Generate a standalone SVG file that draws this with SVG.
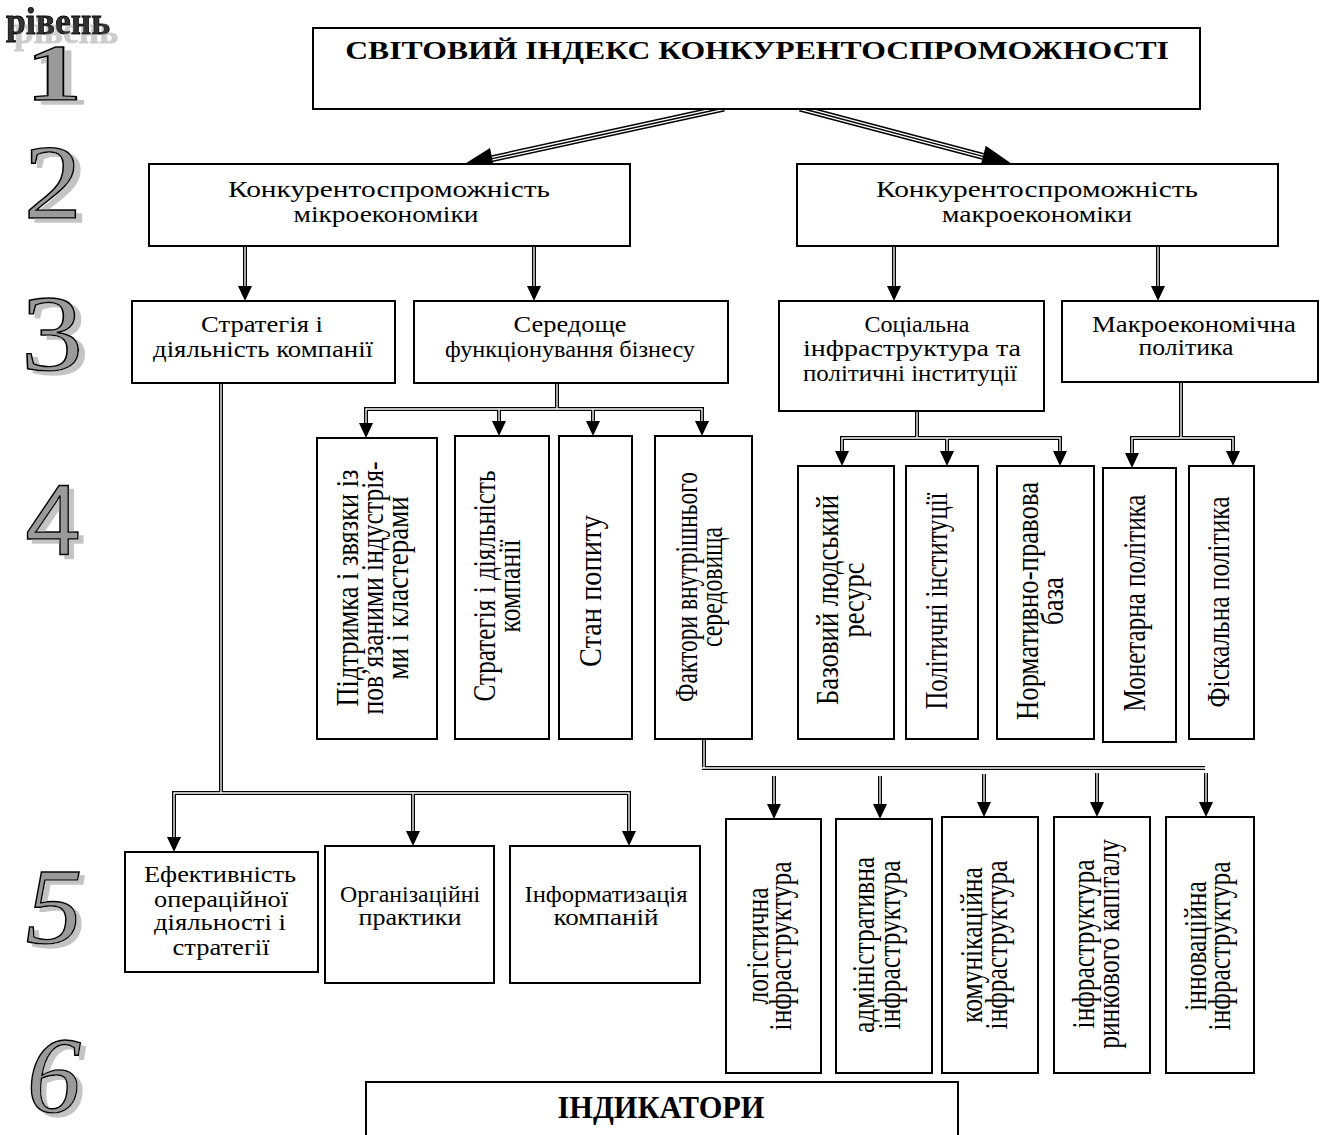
<svg xmlns="http://www.w3.org/2000/svg" width="1334" height="1135" viewBox="0 0 1334 1135">
<defs>
<style>
.box{fill:#fff;stroke:#000;stroke-width:2}
.h{font-family:"Liberation Serif","Times New Roman",serif;font-size:23px;text-anchor:middle;fill:#000}
.hb{font-family:"Liberation Serif","Times New Roman",serif;font-weight:bold;text-anchor:middle;fill:#000}
.v{font-family:"Liberation Serif","Times New Roman",serif;font-size:25px;text-anchor:middle;fill:#000}
.v5{font-family:"Liberation Serif","Times New Roman",serif;font-size:25.5px;text-anchor:middle;fill:#000}
.dbo{fill:none;stroke:#000;stroke-width:4}
.dbi{fill:none;stroke:#fff;stroke-width:1.3}
.tro{fill:none;stroke:#000;stroke-width:7}
.trm{fill:none;stroke:#fff;stroke-width:4}
.tri{fill:none;stroke:#000;stroke-width:1.4}
.num{font-family:"Liberation Serif","Times New Roman",serif;fill:#9a9a9a;stroke:#000;stroke-width:1.4;text-anchor:middle;filter:url(#shd)}
.lvl{font-family:"Liberation Serif","Times New Roman",serif;font-weight:bold;font-size:37px;text-anchor:middle;fill:#333;stroke:#000;stroke-width:0.8;filter:url(#shd2)}
</style>
<filter id="shd" x="-20%" y="-20%" width="150%" height="150%">
<feOffset in="SourceAlpha" dx="5" dy="4" result="o"/>
<feFlood flood-color="#c4c4c4"/>
<feComposite in2="o" operator="in" result="s"/>
<feMerge><feMergeNode in="s"/><feMergeNode in="SourceGraphic"/></feMerge>
</filter>
<filter id="shd2" x="-20%" y="-20%" width="150%" height="170%">
<feOffset in="SourceAlpha" dx="8" dy="9" result="o"/>
<feFlood flood-color="#cccccc"/>
<feComposite in2="o" operator="in" result="s"/>
<feMerge><feMergeNode in="s"/><feMergeNode in="SourceGraphic"/></feMerge>
</filter>
<path id="ah" d="M-7,-15 L7,-15 L0,0 Z" fill="#000"/>
</defs>
<rect width="1334" height="1135" fill="#fff"/>

<g id="levels">
<text class="lvl" x="58" y="34" textLength="104" lengthAdjust="spacingAndGlyphs">рівень</text>
<text class="num" style="font-size:80px;font-weight:bold" transform="translate(54,100) scale(1.4,1)">1</text>
<text class="num" style="font-size:105px" transform="translate(53,218) scale(1.1,1)">2</text>
<text class="num" style="font-size:108px" transform="translate(52,370) scale(1.15,1)">3</text>
<text class="num" style="font-size:100px;font-family:'Liberation Sans',Arial,sans-serif" transform="translate(53,555)">4</text>
<text class="num" style="font-size:108px;font-style:italic" transform="translate(54,943) scale(1.05,1)">5</text>
<text class="num" style="font-size:108px;font-style:italic" transform="translate(54,1112)">6</text>
</g>

<g id="connectors">
<path class="tro" d="M724,108 L492.3,158.6"/>
<path class="trm" d="M724,108 L492.3,158.6"/>
<path class="tri" d="M724,108 L492.3,158.6"/>
<polygon points="463,165 494.6,169.4 490,147.9" fill="#000"/>
<path class="tro" d="M800,108 L983,156.4"/>
<path class="trm" d="M800,108 L983,156.4"/>
<path class="tri" d="M800,108 L983,156.4"/>
<polygon points="1012,164 980.2,167 985.8,145.8" fill="#000"/>
<g class="dbo">
<path d="M245,246 V289"/><path d="M534,246 V289"/><path d="M894,246 V289"/><path d="M1158,246 V289"/>
<path d="M557,383 V409"/><path d="M366,424 V409 H702 V424"/><path d="M499,409 V424"/><path d="M593,409 V424"/>
<path d="M917,411 V438"/><path d="M842,454 V438 H1060 V454"/><path d="M947,438 V454"/>
<path d="M1181,382 V438"/><path d="M1132,455 V438 H1233 V454"/>
<path d="M221,383 V793"/><path d="M174,839 V793 H629 V834"/><path d="M413,793 V834"/>
<path d="M704,739 V768"/><path d="M702,768 H1205"/>
<path d="M774,776 V807"/><path d="M880,776 V807"/><path d="M984,774 V805"/><path d="M1097,773 V805"/><path d="M1206,773 V805"/>
</g>
<g class="dbi">
<path d="M245,246 V289"/><path d="M534,246 V289"/><path d="M894,246 V289"/><path d="M1158,246 V289"/>
<path d="M557,383 V409"/><path d="M366,424 V409 H702 V424"/><path d="M499,409 V424"/><path d="M593,409 V424"/>
<path d="M917,411 V438"/><path d="M842,454 V438 H1060 V454"/><path d="M947,438 V454"/>
<path d="M1181,382 V438"/><path d="M1132,455 V438 H1233 V454"/>
<path d="M221,383 V793"/><path d="M174,839 V793 H629 V834"/><path d="M413,793 V834"/>
<path d="M704,739 V768"/><path d="M702,768 H1205"/>
<path d="M774,776 V807"/><path d="M880,776 V807"/><path d="M984,774 V805"/><path d="M1097,773 V805"/><path d="M1206,773 V805"/>
</g>
<use href="#ah" x="245" y="301"/><use href="#ah" x="534" y="301"/><use href="#ah" x="894" y="301"/><use href="#ah" x="1158" y="301"/>
<use href="#ah" x="366" y="438"/><use href="#ah" x="499" y="436"/><use href="#ah" x="593" y="436"/><use href="#ah" x="702" y="436"/>
<use href="#ah" x="842" y="466"/><use href="#ah" x="947" y="466"/><use href="#ah" x="1060" y="466"/>
<use href="#ah" x="1132" y="468"/><use href="#ah" x="1233" y="466"/>
<use href="#ah" x="174" y="852"/><use href="#ah" x="413" y="846"/><use href="#ah" x="629" y="846"/>
<use href="#ah" x="774" y="819"/><use href="#ah" x="880" y="819"/><use href="#ah" x="984" y="817"/><use href="#ah" x="1097" y="817"/><use href="#ah" x="1206" y="817"/>
</g>

<g id="n-top">
<rect class="box" x="313" y="28" width="887" height="81"/>
<text class="hb" style="font-size:25.5px" transform="translate(757,59) scale(1.25,1)" textLength="659" lengthAdjust="spacingAndGlyphs">СВІТОВИЙ ІНДЕКС КОНКУРЕНТОСПРОМОЖНОСТІ</text>
</g>

<g id="n-micro">
<rect class="box" x="149" y="164" width="481" height="82"/>
<text class="h" transform="translate(389,197) scale(1.25,1)" textLength="257.6" lengthAdjust="spacingAndGlyphs">Конкурентоспроможність</text>
<text class="h" transform="translate(386,222) scale(1.25,1)" textLength="148" lengthAdjust="spacingAndGlyphs">мікроекономіки</text>
</g>
<g id="n-macro">
<rect class="box" x="797" y="164" width="481" height="82"/>
<text class="h" transform="translate(1037,197) scale(1.25,1)" textLength="257.6" lengthAdjust="spacingAndGlyphs">Конкурентоспроможність</text>
<text class="h" transform="translate(1037,222) scale(1.25,1)" textLength="152" lengthAdjust="spacingAndGlyphs">макроекономіки</text>
</g>

<g id="n-strategy">
<rect class="box" x="132" y="301" width="263" height="82"/>
<text class="h" transform="translate(262,332) scale(1.25,1)" textLength="97.6" lengthAdjust="spacingAndGlyphs">Стратегія і</text>
<text class="h" transform="translate(263,357) scale(1.25,1)" textLength="176" lengthAdjust="spacingAndGlyphs">діяльність компанії</text>
</g>
<g id="n-business">
<rect class="box" x="414" y="301" width="314" height="82"/>
<text class="h" transform="translate(570,332) scale(1.25,1)" textLength="90.4" lengthAdjust="spacingAndGlyphs">Середоще</text>
<text class="h" transform="translate(570,357) scale(1.25,1)" textLength="200" lengthAdjust="spacingAndGlyphs">функціонування бізнесу</text>
</g>
<g id="n-social">
<rect class="box" x="779" y="301" width="265" height="110"/>
<text class="h" transform="translate(917,332) scale(1.25,1)" textLength="84" lengthAdjust="spacingAndGlyphs">Соціальна</text>
<text class="h" transform="translate(912,356) scale(1.25,1)" textLength="174.4" lengthAdjust="spacingAndGlyphs">інфраструктура та</text>
<text class="h" transform="translate(910,381) scale(1.25,1)" textLength="171.2" lengthAdjust="spacingAndGlyphs">політичні інституції</text>
</g>
<g id="n-macropolicy">
<rect class="box" x="1062" y="301" width="256" height="81"/>
<text class="h" transform="translate(1194,332) scale(1.25,1)" textLength="163.2" lengthAdjust="spacingAndGlyphs">Макроекономічна</text>
<text class="h" transform="translate(1186,355) scale(1.25,1)" textLength="76" lengthAdjust="spacingAndGlyphs">політика</text>
</g>

<g id="n-support">
<rect class="box" x="317" y="438" width="120" height="301"/>
<text class="v" transform="translate(358,588) scale(1.25,1) rotate(-90)" textLength="237" lengthAdjust="spacingAndGlyphs">Підтримка і звязки із</text>
<text class="v" transform="translate(383,588) scale(1.25,1) rotate(-90)" textLength="253" lengthAdjust="spacingAndGlyphs">пов’язаними індустрія-</text>
<text class="v" transform="translate(408,588) scale(1.25,1) rotate(-90)" textLength="183" lengthAdjust="spacingAndGlyphs">ми і кластерами</text>
</g>
<g id="n-strat2">
<rect class="box" x="455" y="436" width="94" height="303"/>
<text class="v" transform="translate(495,586) scale(1.25,1) rotate(-90)" textLength="231" lengthAdjust="spacingAndGlyphs">Стратегія і діяльність</text>
<text class="v" transform="translate(520,586) scale(1.25,1) rotate(-90)" textLength="93" lengthAdjust="spacingAndGlyphs">компанії</text>
</g>
<g id="n-demand">
<rect class="box" x="559" y="436" width="73" height="303"/>
<text class="v" transform="translate(601,591) scale(1.25,1) rotate(-90)" textLength="152" lengthAdjust="spacingAndGlyphs">Стан попиту</text>
</g>
<g id="n-factors">
<rect class="box" x="655" y="436" width="97" height="303"/>
<text class="v" transform="translate(697,587) scale(1.25,1) rotate(-90)" textLength="230" lengthAdjust="spacingAndGlyphs">Фактори внутрішнього</text>
<text class="v" transform="translate(722,587) scale(1.25,1) rotate(-90)" textLength="120" lengthAdjust="spacingAndGlyphs">середовища</text>
</g>
<g id="n-human">
<rect class="box" x="798" y="466" width="96" height="273"/>
<text class="v" transform="translate(838,600) scale(1.25,1) rotate(-90)" textLength="210" lengthAdjust="spacingAndGlyphs">Базовий  людський</text>
<text class="v" transform="translate(864,600) scale(1.25,1) rotate(-90)" textLength="75" lengthAdjust="spacingAndGlyphs">ресурс</text>
</g>
<g id="n-polinst">
<rect class="box" x="906" y="466" width="72" height="273"/>
<text class="v" transform="translate(947,601) scale(1.25,1) rotate(-90)" textLength="217" lengthAdjust="spacingAndGlyphs">Політичні інституції</text>
</g>
<g id="n-legal">
<rect class="box" x="997" y="466" width="97" height="273"/>
<text class="v" transform="translate(1038,601) scale(1.25,1) rotate(-90)" textLength="238" lengthAdjust="spacingAndGlyphs">Нормативно-правова</text>
<text class="v" transform="translate(1063,601) scale(1.25,1) rotate(-90)" textLength="48" lengthAdjust="spacingAndGlyphs">база</text>
</g>
<g id="n-monetary">
<rect class="box" x="1103" y="468" width="73" height="274"/>
<text class="v" transform="translate(1145,603) scale(1.25,1) rotate(-90)" textLength="217" lengthAdjust="spacingAndGlyphs">Монетарна політика</text>
</g>
<g id="n-fiscal">
<rect class="box" x="1189" y="466" width="65" height="273"/>
<text class="v" transform="translate(1229,602) scale(1.25,1) rotate(-90)" textLength="211" lengthAdjust="spacingAndGlyphs">Фіскальна політика</text>
</g>

<g id="n-efficiency">
<rect class="box" x="125" y="852" width="193" height="120"/>
<text class="h" transform="translate(220,882) scale(1.25,1)" textLength="121.6" lengthAdjust="spacingAndGlyphs">Ефективність</text>
<text class="h" transform="translate(221,907) scale(1.25,1)" textLength="107.2" lengthAdjust="spacingAndGlyphs">операційної</text>
<text class="h" transform="translate(220,930) scale(1.25,1)" textLength="105.6" lengthAdjust="spacingAndGlyphs">діяльності і</text>
<text class="h" transform="translate(221,955) scale(1.25,1)" textLength="77.6" lengthAdjust="spacingAndGlyphs">стратегії</text>
</g>
<g id="n-org">
<rect class="box" x="325" y="846" width="169" height="137"/>
<text class="h" transform="translate(410,902) scale(1.25,1)" textLength="112" lengthAdjust="spacingAndGlyphs">Організаційні</text>
<text class="h" transform="translate(410,925) scale(1.25,1)" textLength="82.4" lengthAdjust="spacingAndGlyphs">практики</text>
</g>
<g id="n-info">
<rect class="box" x="510" y="846" width="190" height="137"/>
<text class="h" transform="translate(606,902) scale(1.25,1)" textLength="130.4" lengthAdjust="spacingAndGlyphs">Інформатизація</text>
<text class="h" transform="translate(606,925) scale(1.25,1)" textLength="84" lengthAdjust="spacingAndGlyphs">компаній</text>
</g>

<g id="n-logistics">
<rect class="box" x="726" y="819" width="95" height="254"/>
<text class="v5" transform="translate(768,946) scale(1.25,1) rotate(-90)">логістична</text>
<text class="v5" transform="translate(791,946) scale(1.25,1) rotate(-90)">інфраструктура</text>
</g>
<g id="n-admin">
<rect class="box" x="836" y="819" width="96" height="254"/>
<text class="v5" transform="translate(874,945) scale(1.25,1) rotate(-90)">адміністративна</text>
<text class="v5" transform="translate(900,945) scale(1.25,1) rotate(-90)">інфраструктура</text>
</g>
<g id="n-comm">
<rect class="box" x="942" y="817" width="96" height="256"/>
<text class="v5" transform="translate(982,945) scale(1.25,1) rotate(-90)">комунікаційна</text>
<text class="v5" transform="translate(1007,945) scale(1.25,1) rotate(-90)">інфраструктура</text>
</g>
<g id="n-capital">
<rect class="box" x="1054" y="817" width="96" height="256"/>
<text class="v5" transform="translate(1094,944) scale(1.25,1) rotate(-90)">інфраструктура</text>
<text class="v5" transform="translate(1119,944) scale(1.25,1) rotate(-90)">ринкового капіталу</text>
</g>
<g id="n-innov">
<rect class="box" x="1166" y="817" width="88" height="256"/>
<text class="v5" transform="translate(1206,946) scale(1.25,1) rotate(-90)">інноваційна</text>
<text class="v5" transform="translate(1230,946) scale(1.25,1) rotate(-90)">інфраструктура</text>
</g>

<g id="n-indicators">
<rect class="box" x="366" y="1082" width="592" height="70"/>
<text class="hb" style="font-size:32px" x="661" y="1118" textLength="207" lengthAdjust="spacingAndGlyphs">ІНДИКАТОРИ</text>
</g>
</svg>
